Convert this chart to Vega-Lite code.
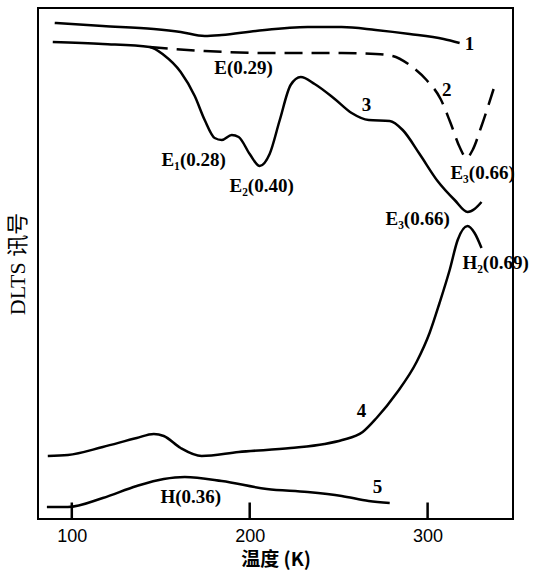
{
  "$schema": "https://vega.github.io/schema/vega-lite/v6.json",
  "autosize": "none",
  "width": 475,
  "height": 511,
  "padding": {"left": 38, "top": 8, "right": 23, "bottom": 57},
  "background": "white",
  "config": {
    "view": {"stroke": "black", "strokeWidth": 2},
    "axis": {"grid": false}
  },
  "datasets": {
    "curves": [
      {"curve": "1", "T": 90.4, "S": 496}, {"curve": "1", "T": 117.4, "S": 493}, {"curve": "1", "T": 146.1, "S": 490}, {"curve": "1", "T": 161.2, "S": 487}, {"curve": "1", "T": 174.7, "S": 483}, {"curve": "1", "T": 184.3, "S": 484}, {"curve": "1", "T": 203.4, "S": 488}, {"curve": "1", "T": 232.6, "S": 492}, {"curve": "1", "T": 251.7, "S": 492}, {"curve": "1", "T": 270.8, "S": 489}, {"curve": "1", "T": 289.9, "S": 485}, {"curve": "1", "T": 309.0, "S": 480}, {"curve": "1", "T": 318.0, "S": 476},
      {"curve": "2", "T": 143.8, "S": 472}, {"curve": "2", "T": 174.7, "S": 468}, {"curve": "2", "T": 213.5, "S": 466}, {"curve": "2", "T": 251.7, "S": 466}, {"curve": "2", "T": 270.8, "S": 465}, {"curve": "2", "T": 280.3, "S": 463}, {"curve": "2", "T": 289.9, "S": 454}, {"curve": "2", "T": 299.4, "S": 439}, {"curve": "2", "T": 307.3, "S": 420}, {"curve": "2", "T": 312.9, "S": 396}, {"curve": "2", "T": 318.0, "S": 372}, {"curve": "2", "T": 321.9, "S": 361}, {"curve": "2", "T": 325.3, "S": 369}, {"curve": "2", "T": 330.3, "S": 393}, {"curve": "2", "T": 337.1, "S": 430},
      {"curve": "3", "T": 89.3, "S": 477}, {"curve": "3", "T": 117.4, "S": 475}, {"curve": "3", "T": 143.8, "S": 472}, {"curve": "3", "T": 151.7, "S": 464}, {"curve": "3", "T": 161.2, "S": 447}, {"curve": "3", "T": 169.1, "S": 423}, {"curve": "3", "T": 174.7, "S": 399}, {"curve": "3", "T": 180.3, "S": 381}, {"curve": "3", "T": 184.3, "S": 379}, {"curve": "3", "T": 189.9, "S": 384}, {"curve": "3", "T": 193.8, "S": 382}, {"curve": "3", "T": 200.0, "S": 365}, {"curve": "3", "T": 205.6, "S": 353}, {"curve": "3", "T": 211.2, "S": 365}, {"curve": "3", "T": 216.9, "S": 399}, {"curve": "3", "T": 223.0, "S": 434}, {"curve": "3", "T": 228.7, "S": 442}, {"curve": "3", "T": 236.5, "S": 435}, {"curve": "3", "T": 247.8, "S": 420}, {"curve": "3", "T": 257.3, "S": 406}, {"curve": "3", "T": 266.9, "S": 399}, {"curve": "3", "T": 278.7, "S": 398}, {"curve": "3", "T": 286.0, "S": 389}, {"curve": "3", "T": 295.5, "S": 365}, {"curve": "3", "T": 305.6, "S": 338}, {"curve": "3", "T": 315.2, "S": 319}, {"curve": "3", "T": 322.5, "S": 307}, {"curve": "3", "T": 326.4, "S": 310}, {"curve": "3", "T": 330.3, "S": 317},
      {"curve": "4", "T": 86.5, "S": 63}, {"curve": "4", "T": 97.8, "S": 64}, {"curve": "4", "T": 117.4, "S": 72}, {"curve": "4", "T": 136.5, "S": 81}, {"curve": "4", "T": 146.1, "S": 85}, {"curve": "4", "T": 151.7, "S": 83}, {"curve": "4", "T": 161.2, "S": 71}, {"curve": "4", "T": 173.0, "S": 63}, {"curve": "4", "T": 193.8, "S": 67}, {"curve": "4", "T": 223.0, "S": 71}, {"curve": "4", "T": 242.1, "S": 75}, {"curve": "4", "T": 252.0, "S": 79}, {"curve": "4", "T": 263.5, "S": 87}, {"curve": "4", "T": 271.3, "S": 101}, {"curve": "4", "T": 282.6, "S": 126}, {"curve": "4", "T": 293.8, "S": 157}, {"curve": "4", "T": 301.1, "S": 186}, {"curve": "4", "T": 306.7, "S": 216}, {"curve": "4", "T": 312.4, "S": 249}, {"curve": "4", "T": 316.9, "S": 279}, {"curve": "4", "T": 322.5, "S": 293}, {"curve": "4", "T": 326.4, "S": 286}, {"curve": "4", "T": 330.3, "S": 271},
      {"curve": "5", "T": 86.0, "S": 12}, {"curve": "5", "T": 97.8, "S": 12}, {"curve": "5", "T": 117.4, "S": 21}, {"curve": "5", "T": 136.5, "S": 33}, {"curve": "5", "T": 151.7, "S": 40}, {"curve": "5", "T": 163.5, "S": 42}, {"curve": "5", "T": 184.3, "S": 38}, {"curve": "5", "T": 209.6, "S": 30}, {"curve": "5", "T": 232.6, "S": 27}, {"curve": "5", "T": 251.7, "S": 23}, {"curve": "5", "T": 266.9, "S": 18}, {"curve": "5", "T": 278.7, "S": 16}
    ],
    "labels": [
      {"T": 323.6, "S": 475, "text": "1"},
      {"T": 196.6, "S": 451, "text": "E(0.29)"},
      {"T": 310.7, "S": 429, "text": "2"},
      {"T": 265.7, "S": 414, "text": "3"},
      {"T": 168.5, "S": 359, "text": "E₁(0.28)"},
      {"T": 206.7, "S": 333, "text": "E₂(0.40)"},
      {"T": 330.9, "S": 346, "text": "E₃(0.66)"},
      {"T": 294.4, "S": 300, "text": "E₃(0.66)"},
      {"T": 338.2, "S": 256, "text": "H₂(0.69)"},
      {"T": 262.9, "S": 108, "text": "4"},
      {"T": 271.9, "S": 32, "text": "5"},
      {"T": 166.9, "S": 22, "text": "H(0.36)"}
    ],
    "tickpos": [{"T": 100, "S": 8}, {"T": 200, "S": 8}, {"T": 300, "S": 8}]
  },
  "layer": [
    {
      "data": {"name": "curves"},
      "transform": [{"filter": "datum.curve != '2'"}],
      "mark": {"type": "line", "color": "black", "strokeWidth": 2.5, "interpolate": "monotone"},
      "encoding": {
        "x": {"field": "T", "type": "quantitative", "scale": {"domain": [81, 348], "nice": false, "zero": false},
          "axis": {
            "title": "温度 (K)", "values": [100, 200, 300],
            "domain": false, "ticks": false,
            "labelPadding": 8, "labelFontSize": 18, "labelFont": "Liberation Sans", "labelColor": "black",
            "titleFont": "Noto Sans CJK SC", "titleFontSize": 19, "titleFontWeight": "bold", "titleColor": "black", "titlePadding": 5
          }
        },
        "y": {"field": "S", "type": "quantitative", "scale": {"domain": [0, 511], "nice": false, "zero": false},
          "axis": {
            "title": "DLTS 讯号", "ticks": false, "labels": false, "domain": false,
            "titleFont": "Liberation Serif, Noto Sans CJK SC", "titleFontSize": 22, "titleFontWeight": "normal", "titleColor": "black", "titlePadding": 9
          }
        },
        "detail": {"field": "curve"}
      }
    },
    {
      "data": {"name": "curves"},
      "transform": [{"filter": "datum.curve == '2'"}],
      "mark": {"type": "line", "color": "black", "strokeWidth": 2.5, "interpolate": "monotone", "strokeDash": [18, 9]},
      "encoding": {
        "x": {"field": "T", "type": "quantitative"},
        "y": {"field": "S", "type": "quantitative"},
        "detail": {"field": "curve"}
      }
    },
    {
      "data": {"name": "tickpos"},
      "mark": {"type": "tick", "color": "black", "fill": "black", "orient": "vertical", "size": 17, "thickness": 2.5, "opacity": 1, "fillOpacity": 1},
      "encoding": {
        "x": {"field": "T", "type": "quantitative"},
        "y": {"field": "S", "type": "quantitative"}
      }
    },
    {
      "data": {"name": "labels"},
      "mark": {"type": "text", "font": "Liberation Serif", "fontSize": 19, "fontWeight": "bold", "color": "black", "align": "center", "baseline": "middle"},
      "encoding": {
        "x": {"field": "T", "type": "quantitative"},
        "y": {"field": "S", "type": "quantitative"},
        "text": {"field": "text"}
      }
    }
  ]
}
